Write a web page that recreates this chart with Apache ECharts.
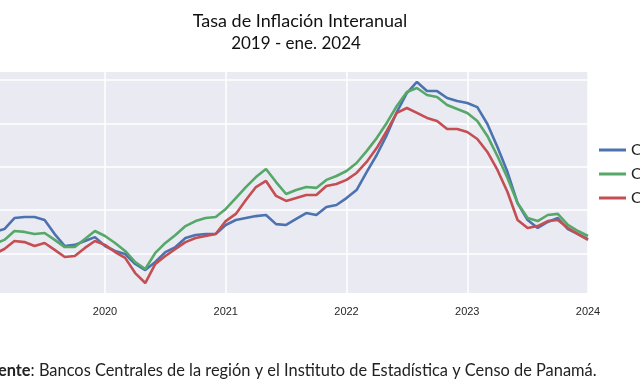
<!DOCTYPE html>
<html>
<head>
<meta charset="utf-8">
<script src="https://cdn.jsdelivr.net/npm/echarts@6/dist/echarts.min.js"></script>
<style>
html,body{margin:0;padding:0;background:#fff;overflow:hidden;width:640px;height:388px;}
#c{position:absolute;left:-40px;top:0;width:680px;height:388px;}
</style>
</head>
<body>
<div id="c"></div>
<script>
// Months 2019-01 .. 2024-01
const months = [];
for (let y = 2019; y <= 2024; y++) {
  for (let m = 1; m <= 12; m++) {
    if (y === 2024 && m > 1) break;
    months.push(y + '-' + String(m).padStart(2, '0'));
  }
}
const yearTicks = ['2020', '2021', '2022', '2023', '2024'];
const seriesNames = ['CARD', 'CA', 'CAP'];

const blue = [2.99, 2.99, 3.12, 3.63, 3.68, 3.68, 3.54, 2.89, 2.34, 2.39, 2.57, 2.75,
  2.34, 2.11, 1.97, 1.51, 1.23, 1.60, 2.06, 2.29, 2.71, 2.85, 2.89, 2.89,
  3.31, 3.54, 3.63, 3.72, 3.77, 3.35, 3.31, 3.59, 3.86, 3.77, 4.14, 4.23,
  4.55, 4.92, 5.75, 6.54, 7.46, 8.52, 9.40, 9.91, 9.49, 9.49, 9.17, 9.03,
  8.94, 8.75, 7.97, 6.91, 5.75, 4.32, 3.54, 3.17, 3.45, 3.63, 3.12, 2.89,
  2.66];
const green = [2.29, 2.43, 2.62, 3.03, 2.99, 2.89, 2.94, 2.62, 2.29, 2.29, 2.66, 3.03,
  2.80, 2.48, 2.11, 1.60, 1.28, 2.02, 2.48, 2.85, 3.26, 3.49, 3.63, 3.68,
  4.05, 4.55, 5.06, 5.52, 5.89, 5.29, 4.74, 4.92, 5.06, 5.02, 5.39, 5.57,
  5.80, 6.17, 6.72, 7.32, 8.02, 8.80, 9.45, 9.63, 9.31, 9.22, 8.85, 8.66,
  8.48, 8.11, 7.42, 6.49, 5.48, 4.32, 3.63, 3.49, 3.77, 3.82, 3.31, 3.03,
  2.80];
const red = [1.88, 1.97, 2.20, 2.57, 2.52, 2.34, 2.48, 2.16, 1.83, 1.88, 2.25, 2.57,
  2.39, 2.06, 1.79, 1.09, 0.63, 1.51, 1.88, 2.20, 2.52, 2.71, 2.80, 2.89,
  3.49, 3.82, 4.46, 5.06, 5.34, 4.65, 4.42, 4.55, 4.69, 4.69, 5.11, 5.20,
  5.39, 5.71, 6.22, 6.86, 7.65, 8.48, 8.71, 8.48, 8.25, 8.11, 7.74, 7.74,
  7.60, 7.28, 6.68, 5.85, 4.83, 3.54, 3.17, 3.26, 3.49, 3.54, 3.17, 2.89,
  2.62];

const colors = ['#4C72B0', '#55A868', '#C44E52'];
const yearTick = (idx) => idx > 0 && idx % 12 === 0;
const SHIFT = 40; // the chart canvas starts 40px left of the page, so its left part is cropped like the reference

const chart = echarts.init(document.getElementById('c'), null, {renderer: 'canvas'});
chart.setOption({
  animation: false,
  backgroundColor: '#ffffff',
  title: [
    {
      text: 'Tasa de Inflación Interanual',
      left: 295 + SHIFT, top: 7, textAlign: 'center',
      textStyle: {fontFamily: 'Lato', fontWeight: 'normal', fontSize: 18, color: '#111'}
    },
    {
      text: '2019 - ene. 2024',
      left: 291 + SHIFT, top: 30, textAlign: 'center',
      textStyle: {fontFamily: 'Lato', fontWeight: 'normal', fontSize: 17, color: '#111'}
    },
    {
      text: '{b|Fuente}: Bancos Centrales de la región y el Instituto de Estadística y Censo de Panamá.',
      left: SHIFT - 25, top: 358,
      textStyle: {
        fontFamily: 'Lato', fontWeight: 'normal', fontSize: 16.4, color: '#222',
        rich: {b: {fontFamily: 'Lato', fontWeight: 'bold', fontSize: 16.4, color: '#222'}}
      }
    }
  ],
  legend: {
    orient: 'vertical',
    left: 594 + SHIFT, top: 137,
    icon: 'rect',
    itemWidth: 27, itemHeight: 3, itemGap: 8,
    textStyle: {fontFamily: 'Lato', fontSize: 16, lineHeight: 16, color: '#222'},
    data: seriesNames
  },
  grid: {
    left: SHIFT - 15.75, right: 52, top: 72, bottom: 95,
    show: true, backgroundColor: '#EAEAF2', borderWidth: 0
  },
  xAxis: {
    type: 'category',
    data: months,
    boundaryGap: false,
    axisLine: {show: false},
    axisTick: {show: false},
    axisLabel: {
      interval: yearTick,
      formatter: (v) => yearTicks[yearTicks.indexOf(v.slice(0, 4))] || v.slice(0, 4),
      fontFamily: 'Liberation Sans Narrow, Arial Narrow, sans-serif',
      fontSize: 11, color: '#262626', margin: 13
    },
    splitLine: {show: true, interval: yearTick, lineStyle: {color: '#ffffff', width: 1.5}}
  },
  yAxis: {
    type: 'value',
    min: 0.17, max: 10.37,
    splitNumber: 5,
    axisLine: {show: false},
    axisTick: {show: false},
    axisLabel: {show: false},
    splitLine: {show: true, showMinLine: false, showMaxLine: false, lineStyle: {color: '#ffffff', width: 1.5}}
  },
  series: [
    {name: seriesNames[0], type: 'line', data: blue, showSymbol: false, symbol: 'none', color: colors[0], lineStyle: {width: 2.6, color: colors[0]}},
    {name: seriesNames[1], type: 'line', data: green, showSymbol: false, symbol: 'none', color: colors[1], lineStyle: {width: 2.6, color: colors[1]}},
    {name: seriesNames[2], type: 'line', data: red, showSymbol: false, symbol: 'none', color: colors[2], lineStyle: {width: 2.6, color: colors[2]}}
  ]
});
</script>
</body>
</html>
